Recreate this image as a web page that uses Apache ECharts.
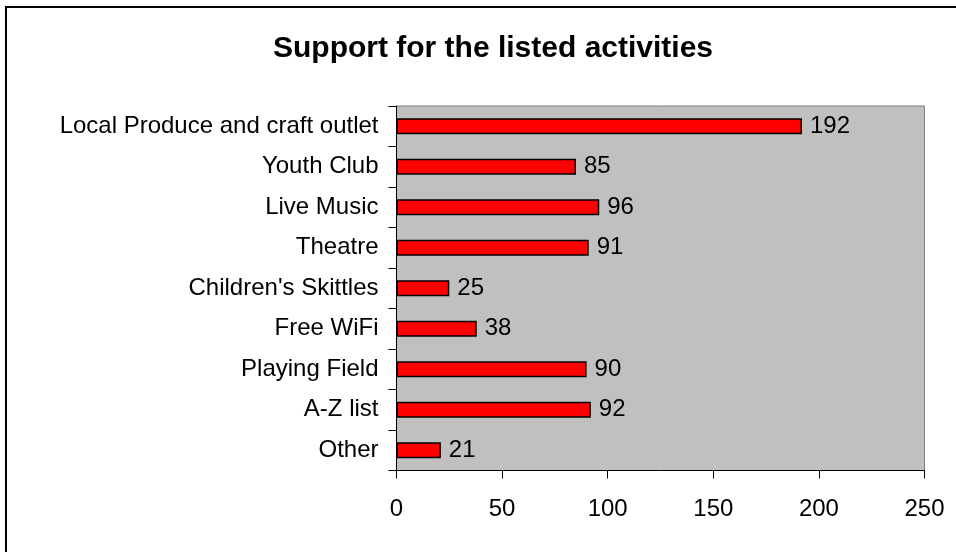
<!DOCTYPE html>
<html><head><meta charset="utf-8">
<script src="https://cdn.jsdelivr.net/npm/echarts@6/dist/echarts.min.js"></script>
<style>html,body{margin:0;padding:0;background:#fff}#c{width:956px;height:552px}</style>
</head><body><div id="c"></div>
<script>
const categories = ["Local Produce and craft outlet","Youth Club","Live Music","Theatre","Children's Skittles","Free WiFi","Playing Field","A-Z list","Other"];
const values = [192,85,96,91,25,38,90,92,21];
const xTicks = [0,50,100,150,200,250];
const titleText = "Support for the listed activities";

const chart = echarts.init(document.getElementById('c'), null, {renderer:'canvas'});
const font = '"Liberation Sans", Arial, sans-serif';
chart.setOption({
  animation:false,
  backgroundColor:'#fff',
  title:{text:titleText,left:488,top:29,textAlign:'center',
    textStyle:{fontFamily:font,fontSize:30,fontWeight:'bold',color:'#000'}},
  graphic:[{type:'rect',shape:{x:6,y:7,width:1000,height:600},
    style:{fill:'none',stroke:'#000',lineWidth:2},z:100}],
  grid:{left:396.5,top:106,width:528,height:364.5,show:true,backgroundColor:'#c0c0c0',borderColor:'#808080',borderWidth:1},
  xAxis:{type:'value',min:0,max:250,interval:50,
    axisLine:{show:true,lineStyle:{color:'#000',width:1}},
    axisTick:{show:true,length:8,lineStyle:{color:'#000'}},
    splitLine:{show:false},
    axisLabel:{fontFamily:font,fontSize:24,color:'#000',margin:27}},
  yAxis:{type:'category',inverse:true,data:categories,
    axisLine:{show:true,lineStyle:{color:'#000',width:1}},
    axisTick:{show:true,length:8,alignWithLabel:false,lineStyle:{color:'#000'}},
    axisLabel:{fontFamily:font,fontSize:24,color:'#000',margin:18}},
  series:[{type:'bar',data:values,barCategoryGap:'60%',
    itemStyle:{color:'#ff0000',borderColor:'#000',borderWidth:1.5},
    label:{show:true,position:'right',distance:8,fontFamily:font,fontSize:24,color:'#000'}}]
});
</script></body></html>
